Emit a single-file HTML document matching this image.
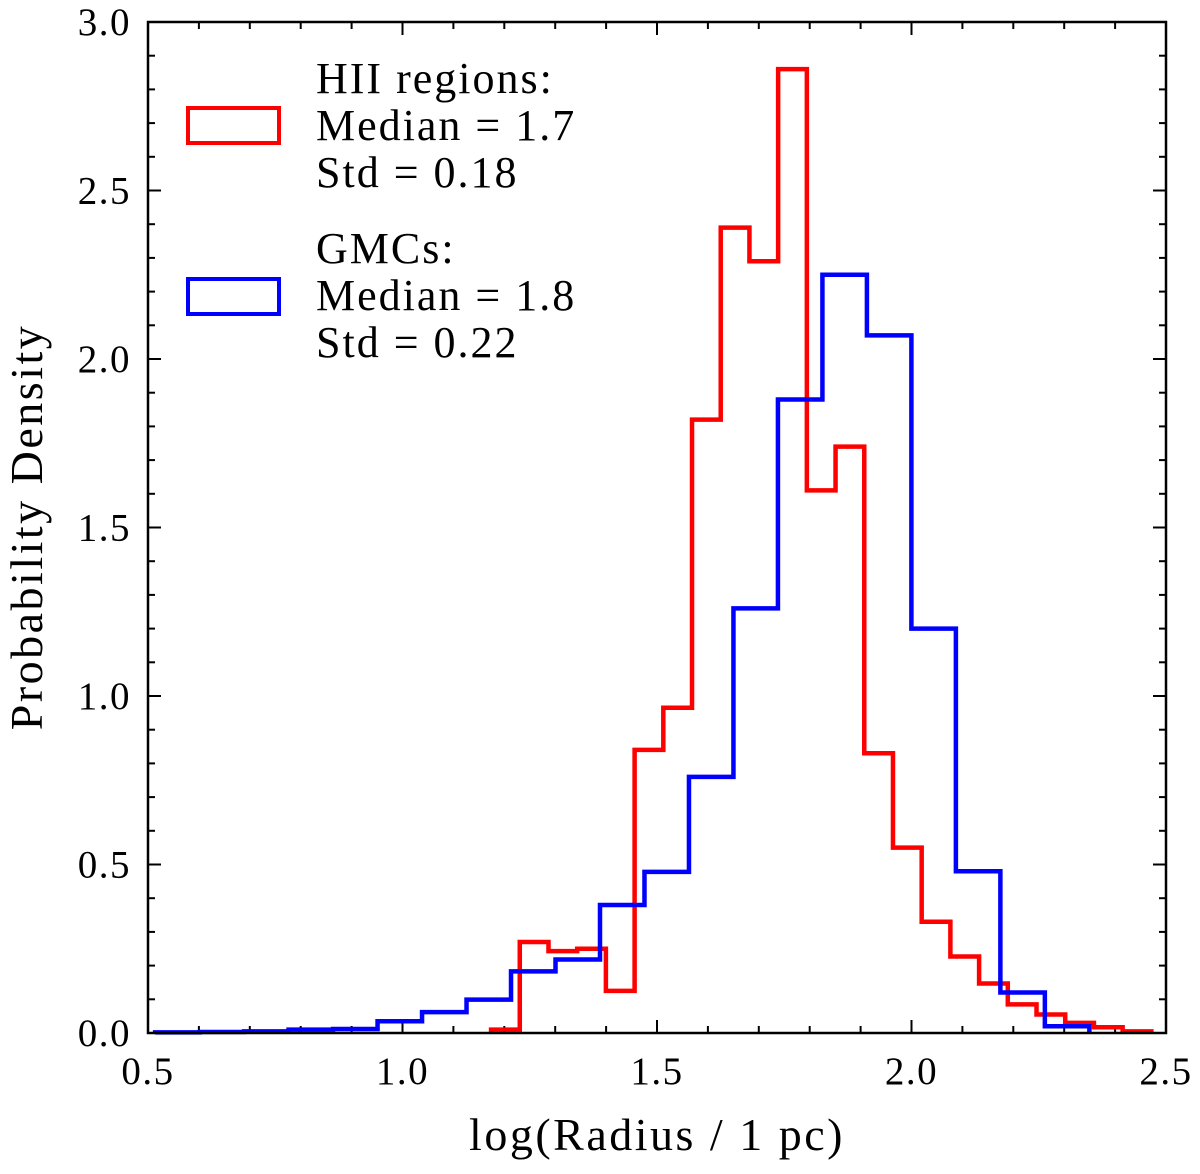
<!DOCTYPE html>
<html><head><meta charset="utf-8"><style>
body{margin:0;background:#fff;}
svg text{font-family:"Liberation Serif",serif;fill:#000;}
</style></head><body>
<svg id="chart" width="1200" height="1169" xmlns="http://www.w3.org/2000/svg">
<g id="ticks"></g>
<g id="hist"></g>
<rect x="148" y="22" width="1018" height="1011" fill="none" stroke="#000" stroke-width="2.5"/>
<g id="labels"></g>
<text x="657" y="1150" font-size="46" letter-spacing="2.5" text-anchor="middle">log(Radius / 1 pc)</text>
<text transform="translate(42,527) rotate(-90)" font-size="46" letter-spacing="2.5" text-anchor="middle">Probability Density</text>
<g>
<rect x="188" y="108" width="91" height="35" fill="none" stroke="#ff0000" stroke-width="4"/>
<text font-size="44" letter-spacing="2"><tspan x="316" y="93">HII regions:</tspan><tspan x="316" y="140">Median = 1.7</tspan><tspan x="316" y="187">Std = 0.18</tspan></text>
<rect x="188" y="279" width="91" height="35" fill="none" stroke="#0000ff" stroke-width="4"/>
<text font-size="44" letter-spacing="2"><tspan x="316" y="263">GMCs:</tspan><tspan x="316" y="310">Median = 1.8</tspan><tspan x="316" y="357">Std = 0.22</tspan></text>
</g>
</svg>
<script>
const redStart = 1.174, redWidth = 0.0564;
const redValues = [0.01,0.27,0.243,0.25,0.125,0.84,0.965,1.82,2.39,2.29,2.86,1.61,1.74,0.83,0.55,0.33,0.227,0.147,0.085,0.055,0.03,0.017,0.005];
const blueStart = 0.514, blueWidth = 0.0874;
const blueValues = [0.002,0.003,0.005,0.01,0.012,0.035,0.062,0.099,0.183,0.218,0.38,0.478,0.76,1.26,1.88,2.25,2.07,1.20,0.48,0.12,0.02];
const xTicks = ["0.5","1.0","1.5","2.0","2.5"];
const yTicks = ["0.0","0.5","1.0","1.5","2.0","2.5","3.0"];
const X0=148,X1=1166,Y0=1033,Y1=22;
const xs = v => X0 + (v-0.5)/2.0*(X1-X0);
const ys = v => Y0 - v/3.0*(Y0-Y1);
const NS="http://www.w3.org/2000/svg";
function step(start,w,vals){
  let d="M"+xs(start)+","+ys(0);
  vals.forEach((v,i)=>{d+=" L"+xs(start+i*w)+","+ys(v)+" L"+xs(start+(i+1)*w)+","+ys(v);});
  d+=" L"+xs(start+vals.length*w)+","+ys(0);
  return d;
}
const hist=document.getElementById('hist');
[["hist-hii","#ff0000",redStart,redWidth,redValues],["hist-gmc","#0000ff",blueStart,blueWidth,blueValues]].forEach(s=>{
  const p=document.createElementNS(NS,'path');
  
  
  p.setAttribute('d',step(s[2],s[3],s[4]));
  p.setAttribute('fill','none');p.setAttribute('stroke',s[1]);p.setAttribute('stroke-width','4.5');
  hist.appendChild(p);
});
const tk=document.getElementById('ticks'), lb=document.getElementById('labels');
function line(x1,y1,x2,y2){const l=document.createElementNS(NS,'line');
  
  
  l.setAttribute('x1',x1);l.setAttribute('y1',y1);l.setAttribute('x2',x2);l.setAttribute('y2',y2);
  l.setAttribute('stroke','#000');l.setAttribute('stroke-width','2');tk.appendChild(l);}
for(let i=0;i<=20;i++){const v=0.5+i*0.1,x=xs(v),L=(i%5==0)?13:7;line(x,Y0,x,Y0-L);line(x,Y1,x,Y1+L);}
for(let i=0;i<=30;i++){const v=i*0.1,y=ys(v),L=(i%5==0)?13:7;line(X0,y,X0+L,y);line(X1,y,X1-L,y);}
xTicks.forEach(t=>{const e=document.createElementNS(NS,'text');
  
  
  e.setAttribute('x',xs(parseFloat(t)));e.setAttribute('y',1084);e.setAttribute('font-size','39');e.setAttribute('letter-spacing','1.5');e.setAttribute('text-anchor','middle');e.textContent=t;lb.appendChild(e);});
yTicks.forEach(t=>{const e=document.createElementNS(NS,'text');
  
  
  e.setAttribute('x',131);e.setAttribute('y',ys(parseFloat(t))+13);e.setAttribute('font-size','39');e.setAttribute('letter-spacing','1.5');e.setAttribute('text-anchor','end');e.textContent=t;lb.appendChild(e);});
</script>
</body></html>
